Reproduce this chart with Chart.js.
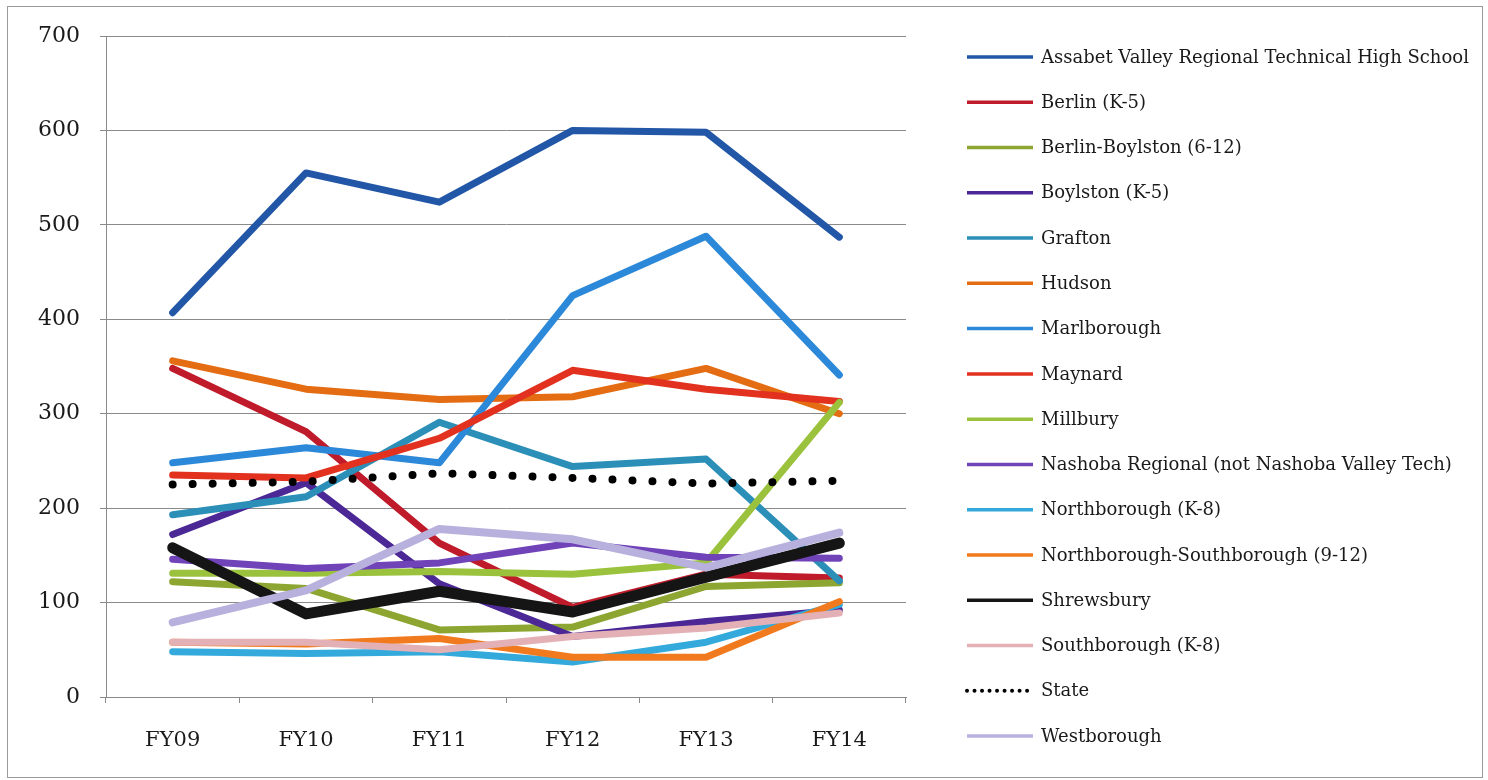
<!DOCTYPE html>
<html>
<head>
<meta charset="utf-8">
<title>Per-pupil chart FY09-FY14</title>
<script src="https://cdn.jsdelivr.net/npm/chart.js@4"></script>
<style>
  html, body { margin: 0; padding: 0; background: #fff; }
  #wrap { position: relative; width: 1488px; height: 780px; }
  #frame { position: absolute; left: 7px; top: 6px; width: 1474px; height: 770px;
           border: 1px solid #9a9a9a; pointer-events: none; }
</style>
</head>
<body>
<div id="wrap">
  <canvas id="myChart" width="1488" height="780"></canvas>
  <div id="frame"></div>
</div>
<script>
var years = ["FY09", "FY10", "FY11", "FY12", "FY13", "FY14"];
var yTicks = [0, 100, 200, 300, 400, 500, 600, 700];

var assabet      = [407, 555, 524, 600, 598, 487];
var berlin       = [348, 281, 163, 95, 130, 126];
var berlinBoyl   = [122, 115, 71, 74, 117, 121];
var boylston     = [172, 227, 120, 64, 80, 92];
var grafton      = [193, 212, 291, 244, 252, 123];
var hudson       = [356, 326, 315, 318, 348, 300];
var marlborough  = [248, 264, 248, 425, 488, 341];
var maynard      = [235, 232, 274, 346, 326, 313];
var millbury     = [131, 131, 133, 130, 142, 312];
var nashoba      = [146, 136, 142, 163, 148, 147];
var northboro    = [48, 46, 48, 37, 58, 98];
var northSouth   = [58, 56, 62, 42, 42, 101];
var shrewsbury   = [158, 88, 112, 90, 127, 163];
var southboro    = [58, 58, 50, 64, 73, 89];
var state        = [225, 228, 237, 232, 226, 229];
var westborough  = [79, 113, 178, 167, 137, 174];

var FONT = "'DejaVu Serif', serif";

function series(label, values, color, width) {
  return {
    label: label,
    data: values,
    borderColor: color,
    backgroundColor: color,
    borderWidth: width || 7,
    borderCapStyle: 'round',
    borderJoinStyle: 'round',
    pointRadius: 0,
    tension: 0,
    fill: false
  };
}

var datasets = [
  series("Assabet Valley Regional Technical High School", assabet, "#2256a6"),
  series("Berlin (K-5)", berlin, "#bf1b2a"),
  series("Berlin-Boylston (6-12)", berlinBoyl, "#8da631"),
  series("Boylston (K-5)", boylston, "#4b2896"),
  series("Grafton", grafton, "#2b8fb8"),
  series("Hudson", hudson, "#e46c12"),
  series("Marlborough", marlborough, "#2c88d8"),
  series("Maynard", maynard, "#e2321f"),
  series("Millbury", millbury, "#9bc23c"),
  series("Nashoba Regional (not Nashoba Valley Tech)", nashoba, "#7043b8"),
  series("Northborough (K-8)", northboro, "#33aadb"),
  series("Northborough-Southborough (9-12)", northSouth, "#f27a1e"),
  series("Shrewsbury", shrewsbury, "#151515", 11),
  series("Southborough (K-8)", southboro, "#e3b1b5"),
  series("State", state, "#000000", 8),
  series("Westborough", westborough, "#b9b1dd", 8)
];
// dotted State line
datasets[14].borderDash = [0.01, 20];
// later series drawn on top, like the original
datasets.forEach(function(d, i) { d.order = datasets.length - i; });

// legend in a single column on the right, in dataset order
var sideLegend = {
  id: 'sideLegend',
  afterDraw: function(chart) {
    var c = chart.ctx;
    var x0 = 967, x1 = 1033, tx = 1041, y = 57, step = 45.27;
    c.save();
    c.font = "18px " + FONT;
    c.textBaseline = 'middle';
    c.textAlign = 'left';
    chart.data.datasets.forEach(function(ds) {
      c.beginPath();
      c.strokeStyle = ds.borderColor;
      if (ds.borderDash) {
        c.setLineDash([0.01, 7.5]);
        c.lineCap = 'round';
        c.lineWidth = 4;
      } else {
        c.setLineDash([]);
        c.lineCap = 'butt';
        c.lineWidth = 3.5;
      }
      c.moveTo(x0, y);
      c.lineTo(x1, y);
      c.stroke();
      c.fillStyle = '#1a1a1a';
      c.fillText(ds.label, tx, y + 1);
      y += step;
    });
    c.restore();
  }
};

var ctx = document.getElementById("myChart");
var myLineChart = new Chart(ctx, {
  type: 'line',
  data: { labels: years, datasets: datasets },
  plugins: [sideLegend],
  options: {
    responsive: false,
    animation: false,
    layout: { padding: { top: 36, left: 0, right: 582, bottom: 0 } },
    plugins: {
      tooltip: { enabled: false },
      legend: { display: false }
    },
    scales: {
      x: {
        offset: true,
        grid: { offset: true, drawOnChartArea: false, drawTicks: true, tickLength: 6, color: '#8a8a8a' },
        border: { color: '#8a8a8a', width: 1 },
        ticks: { font: { family: FONT, size: 21 }, color: '#1a1a1a', padding: 25 },
        afterFit: function(scale) { scale.height = 83; }
      },
      y: {
        min: 0,
        max: 700,
        afterBuildTicks: function(scale) {
          scale.ticks = yTicks.map(function(v) { return { value: v }; });
        },
        grid: { color: '#8a8a8a', tickLength: 6 },
        border: { color: '#8a8a8a', width: 1 },
        ticks: { font: { family: FONT, size: 22 }, color: '#1a1a1a', padding: 20 },
        afterFit: function(scale) { scale.width = 106; }
      }
    }
  }
});
</script>
</body>
</html>
